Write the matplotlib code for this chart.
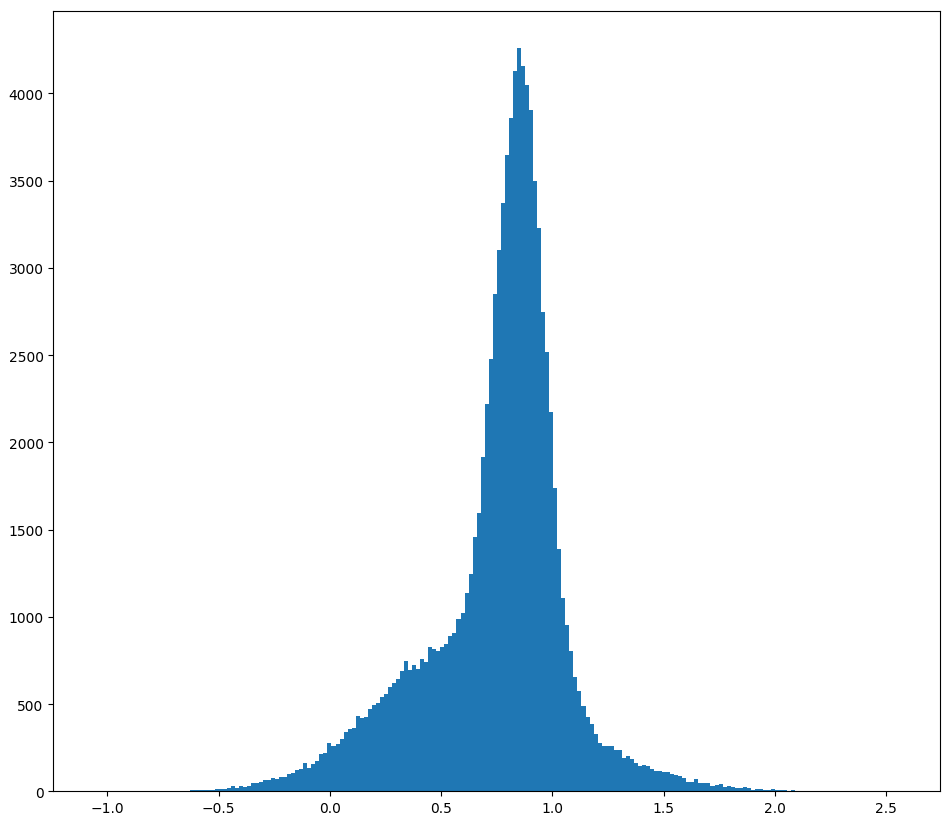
import numpy as np
import matplotlib
matplotlib.use('Agg')
import matplotlib.pyplot as plt

# histogram range and bin count
x_min = -1.0624
x_max = 2.5633
n_bins = 200

# counts per bin, left to right
far_left = [1, 0, 0, 0, 0, 0, 0, 1, 0, 0, 1, 0, 1, 0, 1, 1, 1, 2, 1, 2, 2, 3, 2, 3]
main_counts = [
    5, 5, 5, 6, 6, 7, 11, 12, 16, 18, 29, 17, 29, 23, 29, 46, 46, 52, 62, 64, 74, 69, 80, 80,
    97, 103, 120, 126, 160, 132, 155, 172, 212, 218,
    275, 258, 269, 298, 338, 355, 361, 430, 418, 424,
    470, 493, 504, 539, 556, 596, 619, 642, 688, 745,
    693, 722, 699, 756, 739, 825, 814, 802, 825, 842,
    888, 905, 986, 1020, 1135, 1244, 1456, 1593, 1914, 2218,
    2476, 2848, 3100, 3370, 3645, 3862, 4126, 4258, 4160, 4046,
    3903, 3501, 3226, 2750, 2516, 2172, 1736, 1387, 1106, 951,
    802, 653, 573, 487, 424, 384, 327, 275, 258, 258,
    258, 235, 235, 189, 200, 183, 160, 143, 149, 143,
    126, 115, 115, 109, 109, 97, 92, 86, 74, 52,
    52, 69, 46, 46, 46, 29, 34, 40, 23, 29,
    23, 17, 17, 23, 17, 6, 11, 11, 6, 6,
    11, 6, 6, 6, 2, 6,
]
far_right = [2, 1, 3, 1, 0, 1, 1, 0, 1, 0, 0, 1, 0, 0, 0, 1, 0, 0, 0, 0, 1, 0, 0, 0, 0, 1]

counts = np.array(far_left + main_counts + far_right, dtype=float)
edges = np.linspace(x_min, x_max, n_bins + 1)
centers = (edges[:-1] + edges[1:]) / 2

fig = plt.figure(figsize=(9.51, 8.28), dpi=100)
ax = fig.add_axes([0.05605, 0.04312, 0.9327, 0.94202])
ax.hist(centers, bins=edges, weights=counts)

fig.savefig('out.png', dpi=100)
